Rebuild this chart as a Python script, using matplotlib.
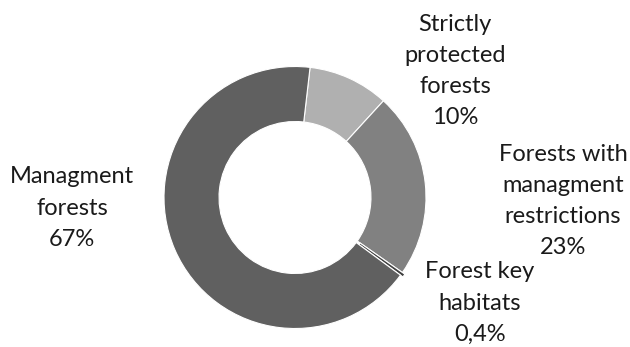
import matplotlib
matplotlib.use('Agg')
import matplotlib.pyplot as plt

# forest area shares by protection regime
labels = ["Strictly\nprotected\nforests",
          "Forests with\nmanagment\nrestrictions",
          "Forest key\nhabitats",
          "Managment\nforests"]
shares = [10, 23, 0.4, 67]
share_text = ["10%", "23%", "0,4%", "67%"]
colors = ["#b0b0b0", "#818181", "#404040", "#606060"]
explode = [0, 0, 3, 0]

W, H = 630, 347
fig = plt.figure(figsize=(W / 100, H / 100), dpi=100)
ax = fig.add_axes([0, 0, 1, 1])

cx, cy, r = 295, H - 197.5, 131
ax.pie(shares, colors=colors, startangle=83.4, counterclock=False,
       center=(cx, cy), radius=r, explode=explode, frame=True,
       wedgeprops=dict(width=r * 0.42, edgecolor='white', linewidth=0.8))
ax.set_xlim(0, W)
ax.set_ylim(0, H)
ax.set_aspect('equal')
ax.axis('off')

# label anchor points (centre of each text block)
label_xy = [(455, 71), (563, 201), (480, 303), (72, 208)]
for lab, pct, (x, y) in zip(labels, share_text, label_xy):
    ax.text(x, H - y, f"{lab}\n{pct}", ha='center', va='center',
            fontsize=17, family='Lato', linespacing=1.6, color='#1a1a1a')

fig.savefig("out.png", dpi=100)
